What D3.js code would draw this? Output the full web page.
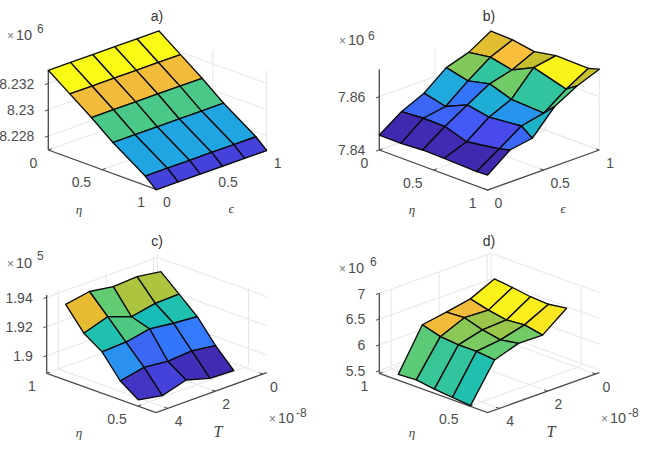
<!DOCTYPE html>
<html>
<head>
<meta charset="utf-8">
<script src="https://cdn.jsdelivr.net/npm/d3@7"></script>
<style>
  html, body { margin: 0; padding: 0; background: #fff; }
  svg { display: block; }
  text { font-family: "Liberation Sans", Arial, sans-serif; }
</style>
</head>
<body>
<script>
// Shared sample positions
const etaFull = [0, 0.2, 0.4, 0.6, 0.9, 1];
const epsFull = [0, 0.2, 0.4, 0.6, 0.8, 1];
const etaPart = [0.96, 0.86, 0.76, 0.66, 0.56];
const tempVals = [4, 3, 2, 1, 0];

// Surface heights: one row per epsilon (a, b) or T (c, d), one column per eta
const zA = [
  [8.2330, 8.2318, 8.2306, 8.2293, 8.22765, 8.2269],
  [8.2330, 8.2318, 8.2306, 8.2293, 8.22765, 8.2269],
  [8.2330, 8.2318, 8.2306, 8.2293, 8.22765, 8.2269],
  [8.2330, 8.2318, 8.2306, 8.2293, 8.22765, 8.2269],
  [8.2330, 8.2318, 8.2306, 8.2293, 8.22765, 8.2269],
  [8.2330, 8.2318, 8.2306, 8.2293, 8.22765, 8.2269]
];
const zB = [
  [7.8456, 7.8455, 7.8460, 7.8459, 7.8454, 7.8456],
  [7.8514, 7.8519, 7.8518, 7.8491, 7.8509, 7.8520],
  [7.8553, 7.8533, 7.8569, 7.8553, 7.8565, 7.8534],
  [7.8619, 7.8599, 7.8618, 7.8590, 7.8583, 7.8623],
  [7.8646, 7.8658, 7.8640, 7.8679, 7.8643, 7.8670],
  [7.8696, 7.8693, 7.8679, 7.8694, 7.8691, 7.8703]
];
const zC = [
  [1.9341, 1.9188, 1.9105, 1.8950, 1.8865],
  [1.9370, 1.9242, 1.9112, 1.8984, 1.8836],
  [1.9345, 1.9183, 1.9144, 1.8966, 1.8884],
  [1.9354, 1.9215, 1.9124, 1.8980, 1.8836],
  [1.9329, 1.9220, 1.9110, 1.8957, 1.8831]
];
const zD = [
  [5.396, 5.416, 5.364, 5.332, 5.299],
  [6.192, 6.088, 6.056, 6.056, 6.017],
  [6.269, 6.289, 6.179, 6.114, 6.172],
  [6.360, 6.269, 6.205, 6.237, 6.166],
  [6.580, 6.541, 6.489, 6.470, 6.521]
];

// Colour index of each facet, 0 to 1 along the colormap
const shadeA = [
  [1.00, 0.82, 0.59, 0.38, 0.09],
  [1.00, 0.82, 0.59, 0.38, 0.09],
  [1.00, 0.82, 0.59, 0.38, 0.09],
  [1.00, 0.82, 0.59, 0.38, 0.09],
  [1.00, 0.82, 0.59, 0.38, 0.09]
];
const shadeB = [
  [0.01, 0.02, 0.02, 0.01, 0.01],
  [0.20, 0.19, 0.16, 0.12, 0.20],
  [0.40, 0.24, 0.42, 0.33, 0.45],
  [0.67, 0.55, 0.65, 0.55, 0.60],
  [0.79, 0.84, 0.75, 0.98, 0.75]
];
const shadeC = [
  [0.80, 0.52, 0.32, 0.05],
  [0.63, 0.60, 0.20, 0.09],
  [0.72, 0.50, 0.24, 0.03],
  [0.72, 0.52, 0.25, 0.02]
];
const shadeD = [
  [0.62, 0.56, 0.55, 0.52],
  [0.82, 0.68, 0.66, 0.63],
  [0.82, 0.70, 0.70, 0.65],
  [0.98, 0.98, 0.97, 0.95]
];

// Tick values and labels
const unitTicks = [0, 0.5, 1];
const unitLabels = ["0", "0.5", "1"];
const etaTicksLow = [1, 0.5];
const etaLabelsLow = ["1", "0.5"];
const tempTicks = [4, 2, 0];
const tempLabels = ["4", "2", "0"];
const zTicksA = [8.228, 8.23, 8.232];
const zLabelsA = ["8.228", "8.23", "8.232"];
const zTicksB = [7.84, 7.86];
const zLabelsB = ["7.84", "7.86"];
const zTicksC = [1.9, 1.92, 1.94];
const zLabelsC = ["1.9", "1.92", "1.94"];
const zTicksD = [5.5, 6, 6.5, 7];
const zLabelsD = ["5.5", "6", "6.5", "7"];
const titles = ["a)", "b)", "c)", "d)"];

// Parula-style colormap
const colormap = d3.scaleLinear()
  .domain([0, 0.127, 0.254, 0.38, 0.508, 0.635, 0.762, 0.83, 0.889, 1])
  .range(["#3e26a8", "#484df0", "#327bfc", "#20a5e3", "#19bfb5", "#64cd6f", "#d1bf27", "#f8ba3d", "#fccf30", "#f9fb15"])
  .interpolate(d3.interpolateRgb);

const svg = d3.select("body").append("svg").attr("width", 645).attr("height", 450);

const panels = [
  { title: titles[0], titleAt: [157, 17], origin: [48.3, 150], A: [107.7, 39.3], B: [110.7, -39.3], H: 80,
    aDomain: [0, 1], bDomain: [0, 1], zDomain: [8.22694, 8.23302],
    aVals: etaFull, bVals: epsFull, z: zA, shade: shadeA,
    aTicks: unitTicks, aLabels: unitLabels, bTicks: unitTicks, bLabels: unitLabels,
    zTicks: zTicksA, zLabels: zLabelsA,
    aName: "η", aNameAt: [79, 214], bName: "ϵ", bNameAt: [231, 213], bSize: 13,
    exp: "6", expAt: [7, 40], supAt: [37, 32.5] },
  { title: titles[1], titleAt: [489, 17], origin: [379.3, 150], A: [108.3, 40], B: [111.7, -40], H: 80.7,
    aDomain: [0, 1], bDomain: [0, 1], zDomain: [7.84, 7.87025],
    aVals: etaFull, bVals: epsFull, z: zB, shade: shadeB,
    aTicks: unitTicks, aLabels: unitLabels, bTicks: unitTicks, bLabels: unitLabels,
    zTicks: zTicksB, zLabels: zLabelsB,
    aName: "η", aNameAt: [412, 214], bName: "ϵ", bNameAt: [563, 213], bSize: 13,
    exp: "6", expAt: [339, 45], supAt: [368, 39.5] },
  { title: titles[2], titleAt: [157, 242], origin: [46.7, 373.3], A: [109.3, 39.3], B: [110.7, -40], H: 78.3,
    aDomain: [1, 0.4], bDomain: [4.49, -0.16], zDomain: [1.8879, 1.9416],
    aVals: etaPart, bVals: tempVals, z: zC, shade: shadeC,
    aTicks: etaTicksLow, aLabels: etaLabelsLow, bTicks: tempTicks, bLabels: tempLabels,
    zTicks: zTicksC, zLabels: zLabelsC,
    aName: "η", aNameAt: [79, 437], bName: "T", bNameAt: [218, 437], bSize: 16,
    exp: "5", expAt: [7, 268], supAt: [37, 259.5],
    axisExpAt: [269, 423], axisSupAt: [296, 416.5] },
  { title: titles[3], titleAt: [489, 242], origin: [379.3, 373.3], A: [108.3, 39.3], B: [111.7, -40], H: 80,
    aDomain: [1, 0.4], bDomain: [4.49, -0.16], zDomain: [5.448, 7],
    aVals: etaPart, bVals: tempVals, z: zD, shade: shadeD,
    aTicks: etaTicksLow, aLabels: etaLabelsLow, bTicks: tempTicks, bLabels: tempLabels,
    zTicks: zTicksD, zLabels: zLabelsD,
    aName: "η", aNameAt: [412, 437], bName: "T", bNameAt: [551, 437], bSize: 16,
    exp: "6", expAt: [339, 273], supAt: [370, 265.5],
    axisExpAt: [601, 423], axisSupAt: [628, 416.5] }
];

const gridColor = "#e6e6e6";
const axisColor = "#4a4a4a";
const textColor = "#4d4d4d";
const tickFont = 14;
const line = d3.line();

panels.forEach(p => {
  const g = svg.append("g");
  const sa = d3.scaleLinear().domain(p.aDomain).range([0, 1]);
  const sb = d3.scaleLinear().domain(p.bDomain).range([0, 1]);
  const sz = d3.scaleLinear().domain(p.zDomain).range([0, p.H]);
  const P = (a, b, z) => [
    p.origin[0] + sa(a) * p.A[0] + sb(b) * p.B[0],
    p.origin[1] + sa(a) * p.A[1] + sb(b) * p.B[1] - sz(z)
  ];
  const [a0, a1] = p.aDomain, [b0, b1] = p.bDomain, [z0, z1] = p.zDomain;

  const seg = (pts, color, width) => g.append("path")
    .attr("d", line(pts)).attr("fill", "none")
    .attr("stroke", color).attr("stroke-width", width);

  // Grid on the two back walls and the floor
  p.zTicks.forEach(z => seg([P(a0, b0, z), P(a0, b1, z), P(a1, b1, z)], gridColor, 1));
  p.bTicks.forEach(b => {
    seg([P(a0, b, z0), P(a0, b, z1)], gridColor, 1);
    seg([P(a0, b, z0), P(a1, b, z0)], gridColor, 1);
  });
  p.aTicks.forEach(a => {
    seg([P(a, b1, z0), P(a, b1, z1)], gridColor, 1);
    seg([P(a, b0, z0), P(a, b1, z0)], gridColor, 1);
  });

  // Axis lines and tick marks
  seg([P(a0, b0, z0), P(a0, b0, z1)], axisColor, 1.3);
  seg([P(a0, b0, z0), P(a1, b0, z0), P(a1, b1, z0)], axisColor, 1.3);
  const tickFrac = 0.03;
  p.zTicks.forEach((z, i) => {
    const q = P(a0, b0, z);
    seg([q, [q[0] - tickFrac * p.B[0], q[1] - tickFrac * p.B[1]]], axisColor, 1);
    g.append("text").attr("x", q[0] - 14).attr("y", q[1] + 1.5)
      .attr("text-anchor", "end").attr("dominant-baseline", "middle")
      .attr("font-size", tickFont).attr("fill", textColor).text(p.zLabels[i]);
  });
  p.aTicks.forEach((a, i) => {
    const q = P(a, b0, z0);
    seg([q, [q[0] + tickFrac * p.B[0], q[1] + tickFrac * p.B[1]]], axisColor, 1);
    g.append("text").attr("x", q[0] - 11).attr("y", q[1] + 14)
      .attr("text-anchor", "end").attr("dominant-baseline", "middle")
      .attr("font-size", tickFont).attr("fill", textColor).text(p.aLabels[i]);
  });
  p.bTicks.forEach((b, i) => {
    const q = P(a1, b, z0);
    seg([q, [q[0] - tickFrac * p.A[0], q[1] - tickFrac * p.A[1]]], axisColor, 1);
    g.append("text").attr("x", q[0] + 7).attr("y", q[1] + 14)
      .attr("text-anchor", "start").attr("dominant-baseline", "middle")
      .attr("font-size", tickFont).attr("fill", textColor).text(p.bLabels[i]);
  });

  // Surface facets, painted from the far corner toward the viewer
  const cells = [];
  p.shade.forEach((row, j) => row.forEach((t, i) => {
    const depth = d3.mean([i, i + 1], k => sa(p.aVals[k])) - d3.mean([j, j + 1], k => sb(p.bVals[k]));
    cells.push({ i, j, t, depth });
  }));
  cells.sort((m, n) => d3.ascending(m.depth, n.depth));
  g.selectAll("path.facet").data(cells).join("path")
    .attr("class", "facet")
    .attr("d", c => line([
      P(p.aVals[c.i], p.bVals[c.j], p.z[c.j][c.i]),
      P(p.aVals[c.i + 1], p.bVals[c.j], p.z[c.j][c.i + 1]),
      P(p.aVals[c.i + 1], p.bVals[c.j + 1], p.z[c.j + 1][c.i + 1]),
      P(p.aVals[c.i], p.bVals[c.j + 1], p.z[c.j + 1][c.i])
    ]) + "Z")
    .attr("fill", c => colormap(c.t))
    .attr("stroke", "#0a0a0a")
    .attr("stroke-width", 1.35)
    .attr("stroke-linejoin", "round");

  // Title
  g.append("text").attr("x", p.titleAt[0]).attr("y", p.titleAt[1])
    .attr("text-anchor", "middle").attr("dominant-baseline", "middle")
    .attr("font-size", tickFont).attr("fill", "#333").text(p.title);

  // Axis names set in a math face
  g.append("text").attr("x", p.aNameAt[0]).attr("y", p.aNameAt[1])
    .attr("text-anchor", "middle").attr("font-size", 13).attr("font-style", "italic")
    .style("font-family", "'Liberation Serif', serif").attr("fill", "#444").text(p.aName);
  g.append("text").attr("x", p.bNameAt[0]).attr("y", p.bNameAt[1])
    .attr("text-anchor", "middle").attr("font-size", p.bSize).attr("font-style", "italic")
    .style("font-family", "'Liberation Serif', serif").attr("fill", "#444").text(p.bName);

  // Scale factors
  const factor = (at, supAt, power) => {
    const t = g.append("text").attr("x", at[0]).attr("y", at[1]).attr("fill", textColor);
    t.append("tspan").attr("font-size", 12).attr("fill", "#777").text("×");
    t.append("tspan").attr("font-size", 14.5).attr("dx", 2).text("10");
    g.append("text").attr("x", supAt[0]).attr("y", supAt[1])
      .attr("font-size", 12).attr("fill", textColor).text(power);
  };
  factor(p.expAt, p.supAt, p.exp);
  if (p.axisExpAt) factor(p.axisExpAt, p.axisSupAt, "-8");
});
</script>
</body>
</html>
